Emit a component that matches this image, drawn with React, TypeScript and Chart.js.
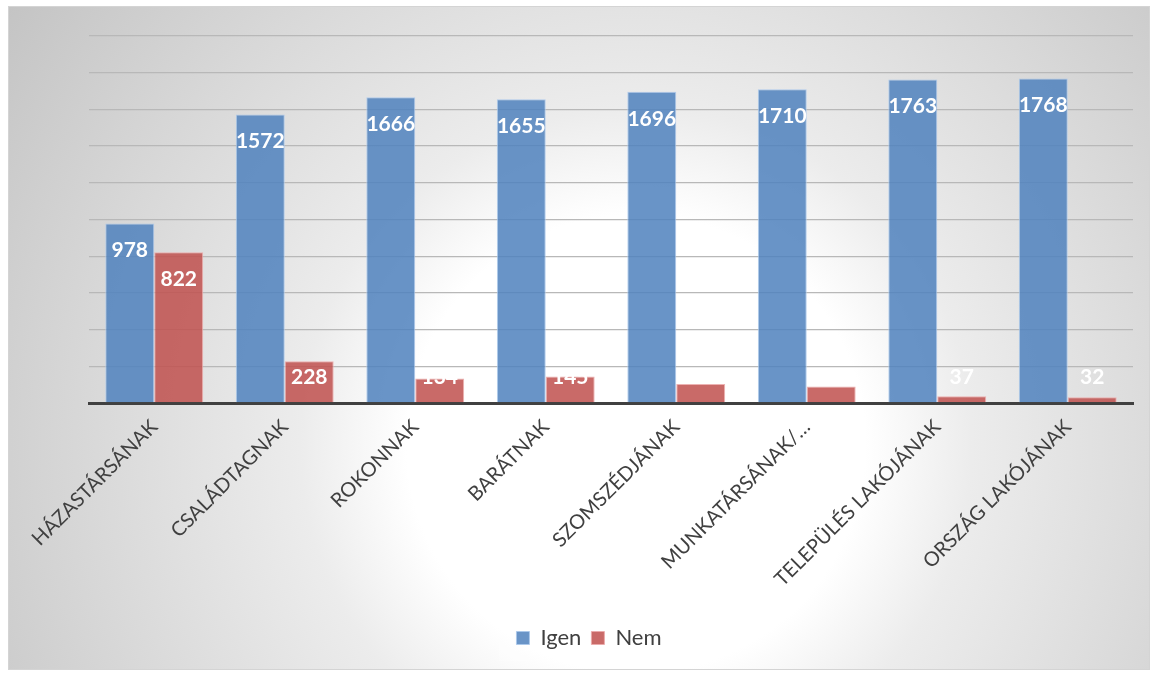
import React, { useEffect, useRef } from "react";
import { Chart, registerables } from "chart.js";

Chart.register(...registerables);

const categories = [
  "HÁZASTÁRSÁNAK",
  "CSALÁDTAGNAK",
  "ROKONNAK",
  "BARÁTNAK",
  "SZOMSZÉDJÁNAK",
  "MUNKATÁRSÁNAK/…",
  "TELEPÜLÉS LAKÓJÁNAK",
  "ORSZÁG LAKÓJÁNAK",
];
const igenValues = [978, 1572, 1666, 1655, 1696, 1710, 1763, 1768];
const nemValues = [822, 228, 134, 145, 104, 90, 37, 32];
const seriesNames = ["Igen", "Nem"];
const yMax = 2000;
const yStep = 200;

const dataLabelPlugin = {
  id: "dataLabels",
  afterDatasetsDraw(chart: any) {
    const ctx = chart.ctx;
    ctx.save();
    ctx.font = "bold 21px Lato";
    ctx.fillStyle = "#ffffff";
    ctx.textAlign = "center";
    ctx.textBaseline = "middle";
    chart.data.datasets.forEach((ds: any, di: number) => {
      const meta = chart.getDatasetMeta(di);
      meta.data.forEach((el: any, i: number) => {
        const y = Math.min(el.y + 27, el.base - 25);
        ctx.fillText(String(ds.data[i]), el.x, y);
      });
    });
    ctx.restore();
  },
};

const legendBgPlugin = {
  id: "legendBg",
  beforeDraw(chart: any) {
    const lg = chart.legend;
    if (!lg || !lg.legendHitBoxes || !lg.legendHitBoxes.length) return;
    const boxes = lg.legendHitBoxes;
    const l = boxes[0].left - 18;
    const r = boxes[boxes.length - 1].left + boxes[boxes.length - 1].width + 10;
    const t = boxes[0].top - 12;
    const b = boxes[0].top + boxes[0].height + 12;
    const ctx = chart.ctx;
    ctx.save();
    ctx.fillStyle = "rgba(255,255,255,0.25)";
    ctx.fillRect(l, t, r - l, b - t);
    ctx.restore();
  },
};

export default function App() {
  const ref = useRef<HTMLCanvasElement | null>(null);

  useEffect(() => {
    if (!ref.current) return;
    const chart = new Chart(ref.current, {
      type: "bar",
      data: {
        labels: categories,
        datasets: [
          {
            label: seriesNames[0],
            data: igenValues,
            backgroundColor: "rgba(79,129,189,0.85)",
            borderColor: "rgba(170,200,235,0.9)",
            borderWidth: 1,
            categoryPercentage: 0.75,
            barPercentage: 1.0,
          },
          {
            label: seriesNames[1],
            data: nemValues,
            backgroundColor: "rgba(192,80,77,0.85)",
            borderColor: "rgba(235,170,170,0.9)",
            borderWidth: 1,
            categoryPercentage: 0.75,
            barPercentage: 1.0,
          },
        ],
      },
      options: {
        animation: false,
        responsive: true,
        maintainAspectRatio: false,
        layout: { padding: { top: 29, right: 16, bottom: 10, left: 36 } },
        plugins: {
          tooltip: { enabled: false },
          legend: {
            position: "bottom",
            labels: {
              boxWidth: 13,
              boxHeight: 13,
              color: "#404040",
              font: { family: "Lato", size: 22 },
              padding: 10,
            },
          },
        },
        scales: {
          x: {
            grid: { display: false, drawTicks: false },
            border: { display: true, color: "#404040", width: 3 },
            ticks: {
              color: "#404040",
              font: { family: "Lato", size: 20 },
              maxRotation: 45,
              minRotation: 45,
              padding: 12,
              autoSkip: false,
            },
            afterFit: (s: any) => {
              s.height = 214;
            },
          },
          y: {
            min: 0,
            max: yMax,
            ticks: { display: false, stepSize: yStep },
            border: { display: false },
            grid: {
              drawTicks: false,
              color: (c: any) => (c.tick && c.tick.value === 0 ? "rgba(0,0,0,0)" : "#b8b8b8"),
              lineWidth: 1.3,
            },
            afterFit: (s: any) => {
              s.width = 44;
            },
          },
        },
      },
      plugins: [legendBgPlugin, dataLabelPlugin],
    });
    return () => chart.destroy();
  }, []);

  return (
    <div
      style={{
        position: "absolute",
        left: 8,
        top: 6,
        width: 1142,
        height: 664,
        boxSizing: "border-box",
        border: "1px solid #d4d4d4",
        background:
          "radial-gradient(circle farthest-corner at 55% 66%, #ffffff 0%, #ffffff 30%, #ececec 44%, #c4c4c4 100%)",
      }}
    >
      <canvas ref={ref} style={{ width: "100%", height: "100%" }} />
    </div>
  );
}
